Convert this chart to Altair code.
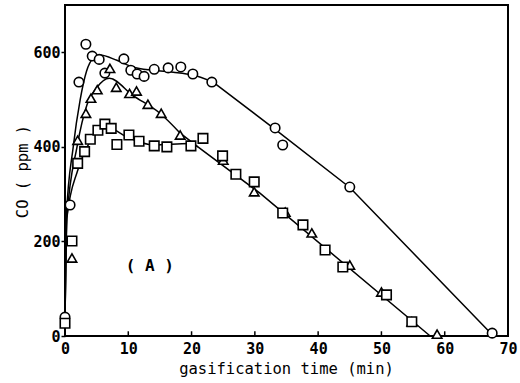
import altair as alt
import pandas as pd

# Measured CO concentration (ppm) against gasification time (min), three runs
circle_t = [0.0, 0.8, 2.2, 3.3, 4.3, 5.4, 6.3, 9.3, 10.4, 11.4, 12.5, 14.1, 16.3, 18.3, 20.2, 23.2, 33.2, 34.4, 45.0, 67.5]
circle_co = [40, 277, 537, 617, 592, 585, 556, 586, 562, 554, 549, 564, 567, 569, 554, 537, 440, 404, 315, 6]

triangle_t = [1.1, 2.0, 3.3, 4.1, 5.1, 7.1, 8.1, 10.2, 11.3, 13.1, 15.2, 18.2, 25.0, 29.9, 34.8, 39.0, 45.0, 50.0, 54.8, 58.8]
triangle_co = [165, 414, 471, 503, 521, 566, 526, 513, 518, 490, 471, 425, 372, 305, 262, 218, 150, 93, 30, 4]

square_t = [0.0, 1.1, 2.0, 3.1, 4.0, 5.2, 6.3, 7.3, 8.2, 10.1, 11.7, 14.1, 16.1, 19.9, 21.8, 24.9, 27.0, 29.9, 34.4, 37.6, 41.1, 43.9, 50.8, 54.8]
square_co = [27, 201, 365, 390, 416, 435, 448, 439, 405, 425, 412, 402, 400, 402, 418, 381, 342, 326, 260, 235, 182, 146, 87, 30]

# Smoothed curves: a curved rise-and-peak part and a straight decay part
circle_head_t = [0, 0.2, 1.3, 2.4, 3.4, 4.5, 5.5, 8.2, 10.7, 13.9, 17.1, 20.2, 23.4]
circle_head_co = [30, 250, 400, 500, 560, 588, 594, 583, 569, 562, 558, 552, 537]
circle_tail_t = [23.4, 33.2, 45.0, 67.7]
circle_tail_co = [537, 437, 314, 0]

triangle_head_t = [0, 0.3, 1.9, 3.5, 5.0, 7.0, 10.7, 15.0, 18.2]
triangle_head_co = [30, 250, 400, 490, 525, 545, 509, 471, 429]
triangle_tail_t = [18.2, 21.0, 30.8, 57.7]
triangle_tail_co = [429, 400, 302, 0]

square_head_t = [0, 0.3, 2.0, 3.5, 5.5, 6.6, 9.8, 13.9, 19.7, 21.0]
square_head_co = [30, 250, 350, 400, 435, 442, 421, 404, 407, 400]

x_ticks = [0, 10, 20, 30, 40, 50, 60, 70]
y_ticks = [0, 200, 400, 600]
inner_ticks = [10, 20, 30, 40, 50, 60]

panel_label = ["( A )"]
panel_label_t = [13.4]
panel_label_co = [148]

FONT = "DejaVu Sans Mono"

points = pd.concat([
    pd.DataFrame({"t": circle_t, "co": circle_co, "run": "circle"}),
    pd.DataFrame({"t": triangle_t, "co": triangle_co, "run": "triangle"}),
    pd.DataFrame({"t": square_t, "co": square_co, "run": "square"}),
])
heads = pd.concat([
    pd.DataFrame({"t": circle_head_t, "co": circle_head_co, "run": "circle"}),
    pd.DataFrame({"t": triangle_head_t, "co": triangle_head_co, "run": "triangle"}),
    pd.DataFrame({"t": square_head_t, "co": square_head_co, "run": "square"}),
])
tails = pd.concat([
    pd.DataFrame({"t": circle_tail_t, "co": circle_tail_co, "run": "circle"}),
    pd.DataFrame({"t": triangle_tail_t, "co": triangle_tail_co, "run": "triangle"}),
])
ticks_df = pd.DataFrame({"t": inner_ticks})
label_df = pd.DataFrame({"t": panel_label_t, "co": panel_label_co, "txt": panel_label})

x_scale = alt.Scale(domain=[0, 70], nice=False, zero=False)
y_scale = alt.Scale(domain=[0, 700], nice=False)

x_axis = alt.Axis(
    values=x_ticks, ticks=False, tickSize=0, grid=False, domain=False,
    labelPadding=5, labelFont=FONT, labelFontSize=15, labelFontWeight="bold",
    labelColor="black", labelFlush=False,
    title="gasification  time  (min)", titleFont=FONT, titleFontSize=15.5,
    titleFontWeight="normal", titleColor="black",
    titleX=221, titleY=37, titleBaseline="alphabetic", titleAlign="center",
)
y_axis = alt.Axis(
    values=y_ticks, tickSize=4, tickWidth=1.5, tickColor="black", grid=False,
    domain=False, labelPadding=1, labelFont=FONT, labelFontSize=15,
    labelFontWeight="bold", labelColor="black", labelFlush=False,
    title="CO  ( ppm )", titleFont=FONT, titleFontSize=15.5,
    titleFontWeight="normal", titleColor="black",
    titleX=-43, titleY=166, titleAngle=270, titleAlign="center",
    titleBaseline="middle",
)

shape_scale = alt.Scale(domain=["circle", "triangle", "square"],
                        range=["circle", "triangle-up", "square"])

head_lines = alt.Chart(heads).mark_line(color="black", strokeWidth=1.5, interpolate="monotone").encode(
    x=alt.X("t:Q", scale=x_scale, axis=x_axis),
    y=alt.Y("co:Q", scale=y_scale, axis=y_axis),
    detail="run:N",
)

tail_lines = alt.Chart(tails).mark_line(color="black", strokeWidth=1.5).encode(
    x=alt.X("t:Q", scale=x_scale),
    y=alt.Y("co:Q", scale=y_scale),
    detail="run:N",
)

markers = alt.Chart(points).mark_point(
    filled=False, fill="white", fillOpacity=1, stroke="black", strokeWidth=1.6, size=90, opacity=1
).encode(
    x=alt.X("t:Q", scale=x_scale),
    y=alt.Y("co:Q", scale=y_scale),
    shape=alt.Shape("run:N", scale=shape_scale, legend=None),
)

tick_marks = alt.Chart(ticks_df).mark_rule(color="black", strokeWidth=1.5).encode(
    x=alt.X("t:Q", scale=x_scale),
    y=alt.datum(0),
    y2=alt.datum(10),
)

label = alt.Chart(label_df).mark_text(
    font=FONT, fontSize=16, fontWeight="bold", color="black"
).encode(
    x=alt.X("t:Q", scale=x_scale),
    y=alt.Y("co:Q", scale=y_scale),
    text="txt:N",
)

chart = alt.layer(head_lines, tail_lines, markers, tick_marks, label).properties(
    width=443,
    height=331,
    padding={"left": 65, "top": 5, "right": 12, "bottom": 47},
    autosize=alt.AutoSizeParams(type="none"),
    background="white",
).configure_view(stroke="black", strokeWidth=2)

chart.save("out.html", embed_options={"renderer": "svg", "actions": False})
